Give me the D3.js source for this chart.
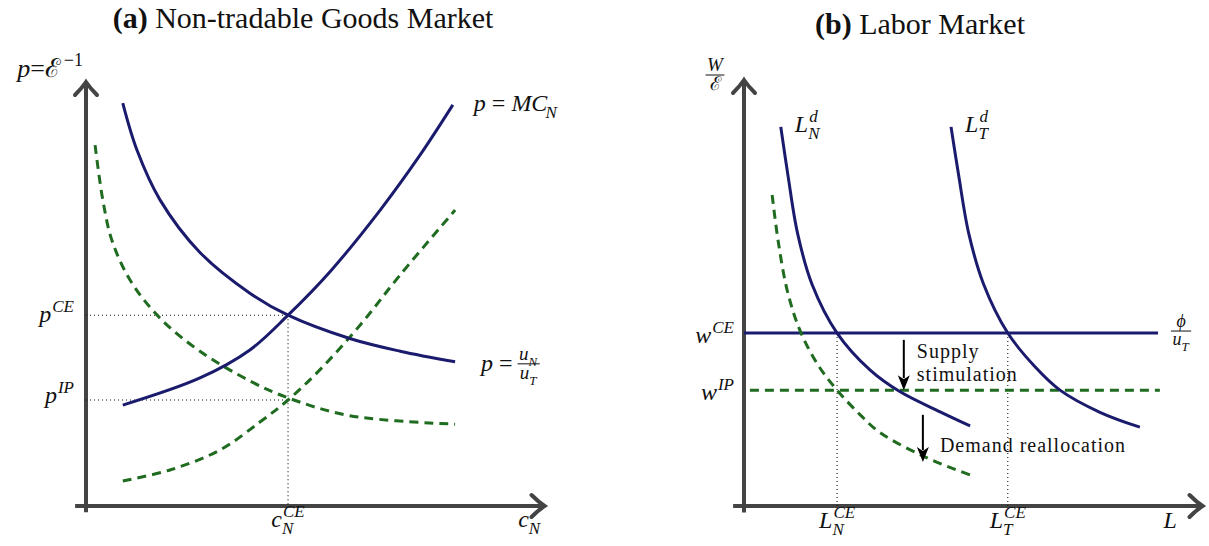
<!DOCTYPE html>
<html>
<head>
<meta charset="utf-8">
<script src="https://cdn.jsdelivr.net/npm/d3@7"></script>
<style>
  body { margin: 0; background: #fff; }
  text { font-family: "Liberation Serif", "DejaVu Serif", serif; fill: #111; }
</style>
</head>
<body>
<div id="chart"></div>
<script>
// ---- panel (a): non-tradable goods market, axis units 0..10
const mcCurve = [[0.81,2.38],[2.51,3.02],[3.61,3.68],[4.45,4.50],[5.37,5.52],[6.48,6.98],[7.36,8.28],[8.08,9.46]];
const demandCurve = [[0.81,9.50],[1.12,8.40],[1.63,7.22],[2.51,5.98],[3.61,5.02],[4.45,4.50],[5.81,3.95],[6.92,3.65],[8.13,3.40]];
const demandIP = [[0.20,8.51],[0.37,7.22],[0.57,6.27],[0.97,5.33],[1.63,4.43],[2.51,3.65],[3.61,2.95],[4.45,2.55],[5.81,2.13],[8.13,1.93]];
const supplyIP = [[0.81,0.59],[1.85,0.85],[2.95,1.32],[3.83,1.98],[4.45,2.50],[5.15,3.21],[6.04,4.27],[6.92,5.45],[8.13,6.98]];
const cCE = 4.45, pCE = 4.50, pIP = 2.50;

// ---- panel (b): labor market
const ldN = [[0.81,8.90],[0.97,7.75],[1.18,6.40],[1.50,5.20],[2.05,4.06],[2.78,3.19],[3.44,2.68],[4.32,2.21],[4.98,1.88]];
const ldT = [[4.56,8.90],[4.73,7.75],[4.95,6.40],[5.28,5.20],[5.81,4.06],[6.40,3.28],[6.96,2.72],[7.84,2.20],[8.72,1.85]];
const ldNip = [[0.62,7.30],[0.75,6.24],[0.95,5.07],[1.23,4.13],[1.63,3.31],[2.05,2.72],[2.56,2.14],[3.00,1.72],[4.03,1.13],[4.98,0.73]];
const wCE = 4.06, wIP = 2.72, lNCE = 2.05, lTCE = 5.81;
const wCEspan = [0, 9.12], wIPspan = [0.13, 9.16];
const shifts = [
  {x: 3.52, from: 3.90, to: 2.72, lines: ["Supply", "stimulation"]},
  {x: 3.94, from: 2.14, to: 1.03, lines: ["Demand reallocation"]}
];

const width = 1209, height = 546;
const navy = "#1b1b6e", green = "#1f6b1f", axisGray = "#444";

const svg = d3.select("#chart").append("svg")
  .attr("width", width).attr("height", height)
  .attr("viewBox", `0 0 ${width} ${height}`);

const aX = d3.scaleLinear().domain([0, 10]).range([86, 540]);
const aY = d3.scaleLinear().domain([0, 10]).range([506, 82]);
const bX = d3.scaleLinear().domain([0, 10]).range([744, 1198]);
const bY = d3.scaleLinear().domain([0, 10]).range([506, 80]);

// open, slightly curved arrow tip (tikz style), pointing right at (0,0)
const chevron = "M-13,-11 C-8,-6 -3,-2 0,0 C-3,2 -8,6 -13,11";

function drawAxes(g, x, y) {
  const x0 = x(-0.24), xTip = x(10.1), y0 = y(-0.15), yTip = y(10);
  g.append("line").attr("x1", x0).attr("x2", xTip).attr("y1", y(0)).attr("y2", y(0))
    .attr("stroke", axisGray).attr("stroke-width", 4);
  g.append("line").attr("x1", x(0)).attr("x2", x(0)).attr("y1", y0).attr("y2", yTip)
    .attr("stroke", axisGray).attr("stroke-width", 4);
  g.append("path").attr("d", chevron).attr("transform", `translate(${xTip},${y(0)})`)
    .attr("fill", "none").attr("stroke", axisGray).attr("stroke-width", 4).attr("stroke-linecap", "round");
  g.append("path").attr("d", chevron).attr("transform", `translate(${x(0)},${yTip}) rotate(-90)`)
    .attr("fill", "none").attr("stroke", axisGray).attr("stroke-width", 4).attr("stroke-linecap", "round");
}

function curve(g, data, x, y, color, dashed) {
  const line = d3.line().x(d => x(d[0])).y(d => y(d[1])).curve(d3.curveCatmullRom.alpha(0.5));
  g.append("path").datum(data).attr("d", line)
    .attr("fill", "none").attr("stroke", color).attr("stroke-width", 3)
    .attr("stroke-dasharray", dashed ? "9,6" : null);
}

function dotted(g, x1, y1, x2, y2) {
  g.append("line").attr("x1", x1).attr("y1", y1).attr("x2", x2).attr("y2", y2)
    .attr("stroke", "#111").attr("stroke-width", 1.1).attr("stroke-dasharray", "1,3");
}

// math label: base (segments [text, italic]) with optional sup / sub, returns group + width
function mathLabel(g, opts) {
  const size = opts.size || 24, small = opts.small || Math.round(size * 0.7);
  const grp = g.append("g");
  const t = grp.append("text").attr("font-size", size);
  opts.base.forEach(([s, it]) => t.append("tspan").attr("font-style", it ? "italic" : "normal").text(s));
  const w = t.node().getComputedTextLength() + (opts.gap || 0);
  let w2 = 0;
  if (opts.sup) {
    const s = grp.append("text").attr("x", w + 1).attr("y", -size * 0.42)
      .attr("font-size", small).attr("font-style", opts.supUpright ? "normal" : "italic").text(opts.sup);
    w2 = Math.max(w2, s.node().getComputedTextLength());
  }
  if (opts.sub) {
    const s = grp.append("text").attr("x", w - (opts.subKern || 0)).attr("y", size * 0.3)
      .attr("font-size", small).attr("font-style", "italic").text(opts.sub);
    w2 = Math.max(w2, s.node().getComputedTextLength());
  }
  return {grp, width: w + (w2 ? w2 + 1 : 0)};
}

function place(lbl, x, y, anchor) {
  const dx = anchor === "end" ? -lbl.width : anchor === "middle" ? -lbl.width / 2 : 0;
  lbl.grp.attr("transform", `translate(${x + dx},${y})`);
  return lbl;
}

function fraction(g, cx, barY, num, den, size) {
  const n = mathLabel(g, Object.assign({size}, num));
  const d = mathLabel(g, Object.assign({size}, den));
  const w = Math.max(n.width, d.width) + 3;
  place(n, cx, barY - 4, "middle");
  place(d, cx, barY + size * 0.8, "middle");
  g.append("line").attr("x1", cx - w / 2).attr("x2", cx + w / 2).attr("y1", barY).attr("y2", barY)
    .attr("stroke", "#111").attr("stroke-width", 1);
  return w;
}

function title(x, y, tag, rest) {
  const t = svg.append("text").attr("x", x).attr("y", y).attr("font-size", 30).attr("text-anchor", "middle");
  t.append("tspan").attr("font-weight", "bold").text(tag);
  t.append("tspan").text(" " + rest);
}

// ================= panel (a)
const ga = svg.append("g");
title(303, 28, "(a)", "Non-tradable Goods Market");
drawAxes(ga, aX, aY);
dotted(ga, aX(0), aY(pCE), aX(cCE), aY(pCE));
dotted(ga, aX(0), aY(pIP), aX(cCE), aY(pIP));
dotted(ga, aX(cCE), aY(pCE), aX(cCE), aY(0));
curve(ga, demandIP, aX, aY, green, true);
curve(ga, supplyIP, aX, aY, green, true);
curve(ga, mcCurve, aX, aY, navy, false);
curve(ga, demandCurve, aX, aY, navy, false);

place(mathLabel(ga, {base: [["p", true], ["=", false], ["\u2130", false]], sup: "\u22121", supUpright: true, gap: 2, size: 26}), aX(0) - 3, aY(10) - 5, "end");
place(mathLabel(ga, {base: [["p", true], [" = ", false], ["MC", true]], sub: "N", subKern: 2}), aX(8.08) + 21, aY(9.46) + 6, "start");
{
  const lx = aX(8.13) + 26, ly = aY(3.40) + 9;
  const p = place(mathLabel(ga, {base: [["p", true], [" = ", false]]}), lx, ly, "start");
  fraction(ga, lx + p.width + 16, ly - 7, {base: [["u", true]], sub: "N"}, {base: [["u", true]], sub: "T"}, 19);
}
place(mathLabel(ga, {base: [["p", true]], sup: "CE"}), aX(0) - 12, aY(pCE) + 7, "end");
place(mathLabel(ga, {base: [["p", true]], sup: "IP"}), aX(0) - 12, aY(pIP) + 3, "end");
place(mathLabel(ga, {base: [["c", true]], sup: "CE", sub: "N"}), aX(cCE), aY(0) + 21, "middle");
place(mathLabel(ga, {base: [["c", true]], sub: "N"}), aX(9.52), aY(0) + 21, "start");

// ================= panel (b)
const gb = svg.append("g");
title(920, 34, "(b)", "Labor Market");
drawAxes(gb, bX, bY);
dotted(gb, bX(lNCE), bY(wCE), bX(lNCE), bY(0));
dotted(gb, bX(lTCE), bY(wCE), bX(lTCE), bY(0));
gb.append("line").attr("x1", bX(wCEspan[0])).attr("x2", bX(wCEspan[1]))
  .attr("y1", bY(wCE)).attr("y2", bY(wCE)).attr("stroke", navy).attr("stroke-width", 3);
gb.append("line").attr("x1", bX(wIPspan[0])).attr("x2", bX(wIPspan[1]))
  .attr("y1", bY(wIP)).attr("y2", bY(wIP)).attr("stroke", green).attr("stroke-width", 3)
  .attr("stroke-dasharray", "9,6");
curve(gb, ldNip, bX, bY, green, true);
curve(gb, ldN, bX, bY, navy, false);
curve(gb, ldT, bX, bY, navy, false);

shifts.forEach((s, i) => {
  const x = bX(s.x), y1 = bY(s.from), y2 = bY(s.to);
  gb.append("line").attr("x1", x).attr("x2", x).attr("y1", y1).attr("y2", y2 - 12)
    .attr("stroke", "#000").attr("stroke-width", 2);
  gb.append("path").attr("d", `M${x},${y2} L${x - 6},${y2 - 15} L${x},${y2 - 11} L${x + 6},${y2 - 15} Z`)
    .attr("fill", "#000");
  const tx = x + (i === 0 ? 13 : 17), ty = i === 0 ? y1 + 18 : y1 + 37;
  s.lines.forEach((l, j) => {
    gb.append("text").attr("x", tx).attr("y", ty + j * 23).attr("font-size", 20)
      .attr("letter-spacing", 1).text(l);
  });
});

fraction(gb, bX(0) - 29, bY(10) - 5, {base: [["W", true]]}, {base: [["\u2130", false]]}, 19);
place(mathLabel(gb, {base: [["L", true]], sup: "d", sub: "N"}), bX(ldN[0][0]) + 14, bY(ldN[0][1]) + 5, "start");
place(mathLabel(gb, {base: [["L", true]], sup: "d", sub: "T"}), bX(ldT[0][0]) + 14, bY(ldT[0][1]) + 5, "start");
place(mathLabel(gb, {base: [["w", true]], sup: "CE"}), bX(0) - 10, bY(wCE) + 10, "end");
place(mathLabel(gb, {base: [["w", true]], sup: "IP"}), bX(0) - 10, bY(wIP) + 10, "end");
fraction(gb, bX(wCEspan[1]) + 23, bY(wCE) - 2, {base: [["\u03d5", true]]}, {base: [["u", true]], sub: "T"}, 18);
place(mathLabel(gb, {base: [["L", true]], sup: "CE", sub: "N"}), bX(lNCE), bY(0) + 22, "middle");
place(mathLabel(gb, {base: [["L", true]], sup: "CE", sub: "T"}), bX(lTCE), bY(0) + 22, "middle");
place(mathLabel(gb, {base: [["L", true]]}), bX(9.24), bY(0) + 22, "start");
</script>
</body>
</html>
